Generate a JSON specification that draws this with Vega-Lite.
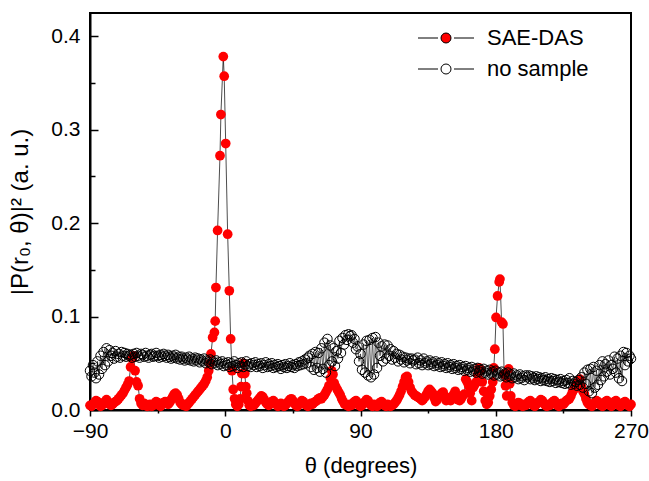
{
"$schema":"https://vega.github.io/schema/vega-lite/v6.json",
"width":541,"height":397,
"autosize":{"type":"none"},
"padding":{"left":90,"top":13,"right":18,"bottom":71},
"background":"white",
"config":{"view":{"stroke":"black","strokeWidth":2},"font":"Liberation Sans",
"axis":{"grid":false,"domainColor":"black","domainWidth":2,"tickColor":"black","tickWidth":1.5,"labelColor":"black","labelFontSize":21,"titleColor":"black","titleFontSize":22,"titleFontWeight":"normal","labelOverlap":false,"labelFlush":false}},
"datasets":{
"sae":[{"t":-90,"v":0.005},{"t":-89,"v":0.004},{"t":-88,"v":0.006},{"t":-87,"v":0.008},{"t":-86,"v":0.010},{"t":-85,"v":0.009},{"t":-84,"v":0.006},{"t":-83,"v":0.004},{"t":-82,"v":0.005},{"t":-81,"v":0.007},{"t":-80,"v":0.009},{"t":-79,"v":0.011},{"t":-78,"v":0.008},{"t":-77,"v":0.006},{"t":-76,"v":0.005},{"t":-75,"v":0.006},{"t":-74,"v":0.008},{"t":-73,"v":0.009},{"t":-72,"v":0.010},{"t":-71,"v":0.012},{"t":-70,"v":0.014},{"t":-69,"v":0.016},{"t":-68,"v":0.018},{"t":-67,"v":0.021},{"t":-66,"v":0.024},{"t":-65,"v":0.027},{"t":-64,"v":0.031},{"t":-63,"v":0.046},{"t":-62,"v":0.055},{"t":-61,"v":0.058},{"t":-60,"v":0.042},{"t":-59,"v":0.030},{"t":-58,"v":0.026},{"t":-57,"v":0.012},{"t":-56,"v":0.007},{"t":-55,"v":0.005},{"t":-54,"v":0.007},{"t":-53,"v":0.006},{"t":-52,"v":0.004},{"t":-51,"v":0.005},{"t":-50,"v":0.006},{"t":-49,"v":0.004},{"t":-48,"v":0.005},{"t":-47,"v":0.007},{"t":-46,"v":0.009},{"t":-45,"v":0.008},{"t":-44,"v":0.005},{"t":-43,"v":0.004},{"t":-42,"v":0.006},{"t":-41,"v":0.008},{"t":-40,"v":0.009},{"t":-39,"v":0.007},{"t":-38,"v":0.006},{"t":-37,"v":0.008},{"t":-36,"v":0.011},{"t":-35,"v":0.014},{"t":-34,"v":0.017},{"t":-33,"v":0.018},{"t":-32,"v":0.016},{"t":-31,"v":0.012},{"t":-30,"v":0.008},{"t":-29,"v":0.006},{"t":-28,"v":0.005},{"t":-27,"v":0.006},{"t":-26,"v":0.004},{"t":-25,"v":0.006},{"t":-24,"v":0.008},{"t":-23,"v":0.010},{"t":-22,"v":0.012},{"t":-21,"v":0.014},{"t":-20,"v":0.016},{"t":-19,"v":0.018},{"t":-18,"v":0.020},{"t":-17,"v":0.022},{"t":-16,"v":0.024},{"t":-15,"v":0.026},{"t":-14,"v":0.028},{"t":-13,"v":0.031},{"t":-12,"v":0.035},{"t":-11,"v":0.042},{"t":-10,"v":0.050},{"t":-9.5,"v":0.060},{"t":-8.4,"v":0.0775},{"t":-7.2,"v":0.083},{"t":-6.7,"v":0.095},{"t":-6.2,"v":0.131},{"t":-5.1,"v":0.192},{"t":-3.5,"v":0.272},{"t":-2.9,"v":0.316},{"t":-1.3,"v":0.378},{"t":-0.7,"v":0.357},{"t":0.3,"v":0.285},{"t":1.6,"v":0.188},{"t":2.7,"v":0.1275},{"t":3.6,"v":0.076},{"t":4.5,"v":0.042},{"t":5.3,"v":0.022},{"t":6.2,"v":0.012},{"t":7,"v":0.006},{"t":8,"v":0.004},{"t":9,"v":0.006},{"t":10,"v":0.012},{"t":10.5,"v":0.025},{"t":11,"v":0.039},{"t":12,"v":0.050},{"t":13,"v":0.039},{"t":13.7,"v":0.025},{"t":14.3,"v":0.018},{"t":15,"v":0.010},{"t":16,"v":0.005},{"t":17,"v":0.004},{"t":18,"v":0.006},{"t":19,"v":0.005},{"t":20,"v":0.007},{"t":21,"v":0.009},{"t":22,"v":0.011},{"t":23,"v":0.013},{"t":24,"v":0.015},{"t":25,"v":0.014},{"t":26,"v":0.011},{"t":27,"v":0.008},{"t":28,"v":0.006},{"t":29,"v":0.005},{"t":30,"v":0.007},{"t":31,"v":0.009},{"t":32,"v":0.010},{"t":33,"v":0.008},{"t":34,"v":0.006},{"t":35,"v":0.004},{"t":36,"v":0.005},{"t":37,"v":0.007},{"t":38,"v":0.006},{"t":39,"v":0.004},{"t":40,"v":0.005},{"t":41,"v":0.007},{"t":42,"v":0.009},{"t":43,"v":0.011},{"t":44,"v":0.012},{"t":45,"v":0.010},{"t":46,"v":0.007},{"t":47,"v":0.005},{"t":48,"v":0.004},{"t":49,"v":0.006},{"t":50,"v":0.008},{"t":51,"v":0.010},{"t":52,"v":0.009},{"t":53,"v":0.006},{"t":54,"v":0.005},{"t":55,"v":0.004},{"t":56,"v":0.006},{"t":57,"v":0.007},{"t":58,"v":0.006},{"t":59,"v":0.008},{"t":60,"v":0.009},{"t":61,"v":0.010},{"t":62,"v":0.012},{"t":63,"v":0.013},{"t":64,"v":0.012},{"t":65,"v":0.014},{"t":66,"v":0.016},{"t":67,"v":0.019},{"t":68,"v":0.022},{"t":69,"v":0.026},{"t":70,"v":0.034},{"t":70.8,"v":0.042},{"t":71.7,"v":0.038},{"t":72.5,"v":0.029},{"t":73.5,"v":0.025},{"t":74.5,"v":0.022},{"t":75.5,"v":0.019},{"t":76.5,"v":0.016},{"t":77.5,"v":0.012},{"t":78.5,"v":0.009},{"t":79.5,"v":0.006},{"t":81,"v":0.005},{"t":82,"v":0.004},{"t":83,"v":0.006},{"t":84,"v":0.005},{"t":85,"v":0.007},{"t":86,"v":0.009},{"t":87,"v":0.010},{"t":88,"v":0.008},{"t":89,"v":0.005},{"t":90,"v":0.004},{"t":91,"v":0.005},{"t":92,"v":0.007},{"t":93,"v":0.009},{"t":94,"v":0.011},{"t":95,"v":0.010},{"t":96,"v":0.007},{"t":97,"v":0.005},{"t":98,"v":0.004},{"t":99,"v":0.006},{"t":100,"v":0.005},{"t":101,"v":0.004},{"t":102,"v":0.006},{"t":103,"v":0.008},{"t":104,"v":0.009},{"t":105,"v":0.007},{"t":106,"v":0.005},{"t":107,"v":0.004},{"t":108,"v":0.006},{"t":109,"v":0.005},{"t":110,"v":0.004},{"t":111,"v":0.005},{"t":112,"v":0.006},{"t":113,"v":0.008},{"t":114,"v":0.010},{"t":115,"v":0.013},{"t":116,"v":0.016},{"t":117,"v":0.020},{"t":118,"v":0.025},{"t":119,"v":0.030},{"t":120,"v":0.035},{"t":121,"v":0.036},{"t":122,"v":0.030},{"t":123,"v":0.024},{"t":124,"v":0.020},{"t":125,"v":0.018},{"t":126,"v":0.016},{"t":127,"v":0.015},{"t":128,"v":0.014},{"t":129,"v":0.013},{"t":130,"v":0.012},{"t":131,"v":0.010},{"t":132,"v":0.012},{"t":133,"v":0.014},{"t":134,"v":0.017},{"t":135,"v":0.020},{"t":136,"v":0.022},{"t":137,"v":0.020},{"t":138,"v":0.018},{"t":139,"v":0.013},{"t":140,"v":0.009},{"t":141,"v":0.011},{"t":142,"v":0.014},{"t":143,"v":0.016},{"t":144,"v":0.018},{"t":145,"v":0.019},{"t":146,"v":0.015},{"t":147,"v":0.010},{"t":148,"v":0.012},{"t":149,"v":0.013},{"t":150,"v":0.010},{"t":151,"v":0.013},{"t":152,"v":0.017},{"t":153,"v":0.020},{"t":154,"v":0.016},{"t":155,"v":0.011},{"t":156,"v":0.010},{"t":157,"v":0.012},{"t":158,"v":0.015},{"t":159,"v":0.017},{"t":160,"v":0.033},{"t":161,"v":0.030},{"t":162,"v":0.026},{"t":163,"v":0.018},{"t":164,"v":0.010},{"t":165,"v":0.024},{"t":166,"v":0.027},{"t":167,"v":0.030},{"t":168,"v":0.038},{"t":169,"v":0.045},{"t":170,"v":0.042},{"t":171,"v":0.030},{"t":172,"v":0.020},{"t":173,"v":0.010},{"t":174,"v":0.006},{"t":175,"v":0.008},{"t":176,"v":0.015},{"t":177,"v":0.022},{"t":178,"v":0.030},{"t":178.7,"v":0.045},{"t":179.4,"v":0.065},{"t":180.2,"v":0.099},{"t":181.2,"v":0.122},{"t":182.3,"v":0.137},{"t":182.8,"v":0.140},{"t":183.9,"v":0.094},{"t":184.8,"v":0.092},{"t":185.6,"v":0.038},{"t":186.5,"v":0.026},{"t":187.3,"v":0.015},{"t":188,"v":0.030},{"t":188.6,"v":0.044},{"t":189.3,"v":0.028},{"t":190,"v":0.015},{"t":191,"v":0.008},{"t":192,"v":0.005},{"t":193,"v":0.004},{"t":194,"v":0.006},{"t":195,"v":0.008},{"t":196,"v":0.007},{"t":197,"v":0.005},{"t":198,"v":0.004},{"t":199,"v":0.006},{"t":200,"v":0.005},{"t":201,"v":0.007},{"t":202,"v":0.009},{"t":203,"v":0.010},{"t":204,"v":0.008},{"t":205,"v":0.005},{"t":206,"v":0.004},{"t":207,"v":0.006},{"t":208,"v":0.008},{"t":209,"v":0.009},{"t":210,"v":0.011},{"t":211,"v":0.010},{"t":212,"v":0.007},{"t":213,"v":0.005},{"t":214,"v":0.004},{"t":215,"v":0.006},{"t":216,"v":0.005},{"t":217,"v":0.007},{"t":218,"v":0.009},{"t":219,"v":0.010},{"t":220,"v":0.008},{"t":221,"v":0.005},{"t":222,"v":0.004},{"t":223,"v":0.006},{"t":224,"v":0.007},{"t":225,"v":0.006},{"t":226,"v":0.008},{"t":227,"v":0.010},{"t":228,"v":0.011},{"t":229,"v":0.012},{"t":230,"v":0.015},{"t":231,"v":0.019},{"t":232,"v":0.022},{"t":233,"v":0.026},{"t":234,"v":0.028},{"t":235,"v":0.030},{"t":236,"v":0.033},{"t":237,"v":0.025},{"t":238,"v":0.020},{"t":239,"v":0.017},{"t":240,"v":0.012},{"t":241,"v":0.008},{"t":242,"v":0.006},{"t":243,"v":0.005},{"t":244,"v":0.004},{"t":245,"v":0.006},{"t":246,"v":0.008},{"t":247,"v":0.010},{"t":248,"v":0.009},{"t":249,"v":0.006},{"t":250,"v":0.005},{"t":251,"v":0.004},{"t":252,"v":0.006},{"t":253,"v":0.009},{"t":254,"v":0.010},{"t":255,"v":0.008},{"t":256,"v":0.005},{"t":257,"v":0.004},{"t":258,"v":0.006},{"t":259,"v":0.009},{"t":260,"v":0.010},{"t":261,"v":0.007},{"t":262,"v":0.005},{"t":263,"v":0.004},{"t":264,"v":0.006},{"t":265,"v":0.008},{"t":266,"v":0.009},{"t":267,"v":0.007},{"t":268,"v":0.005},{"t":269,"v":0.004},{"t":270,"v":0.006}],
"ref":[{"t":-90,"v":0.042},{"t":-89,"v":0.036},{"t":-88,"v":0.048},{"t":-87,"v":0.040},{"t":-86,"v":0.034},{"t":-85,"v":0.052},{"t":-84,"v":0.038},{"t":-83,"v":0.058},{"t":-82,"v":0.044},{"t":-81,"v":0.062},{"t":-80,"v":0.048},{"t":-79,"v":0.066},{"t":-78,"v":0.052},{"t":-77,"v":0.064},{"t":-76,"v":0.058},{"t":-75,"v":0.061},{"t":-74,"v":0.055},{"t":-73,"v":0.063},{"t":-72,"v":0.057},{"t":-71,"v":0.060},{"t":-70,"v":0.056},{"t":-69,"v":0.062},{"t":-68,"v":0.058},{"t":-67,"v":0.061},{"t":-66,"v":0.057},{"t":-65,"v":0.060},{"t":-64,"v":0.058},{"t":-63,"v":0.059},{"t":-62,"v":0.056},{"t":-61,"v":0.060},{"t":-60,"v":0.057},{"t":-59,"v":0.061},{"t":-58,"v":0.058},{"t":-57,"v":0.056},{"t":-56,"v":0.060},{"t":-55,"v":0.059},{"t":-54,"v":0.057},{"t":-53,"v":0.061},{"t":-52,"v":0.058},{"t":-51,"v":0.056},{"t":-50,"v":0.059},{"t":-49,"v":0.060},{"t":-48,"v":0.057},{"t":-47,"v":0.058},{"t":-46,"v":0.061},{"t":-45,"v":0.058},{"t":-44,"v":0.056},{"t":-43,"v":0.059},{"t":-42,"v":0.057},{"t":-41,"v":0.060},{"t":-40,"v":0.058},{"t":-39,"v":0.056},{"t":-38,"v":0.059},{"t":-37,"v":0.057},{"t":-36,"v":0.055},{"t":-35,"v":0.058},{"t":-34,"v":0.056},{"t":-33,"v":0.059},{"t":-32,"v":0.055},{"t":-31,"v":0.057},{"t":-30,"v":0.054},{"t":-29,"v":0.057},{"t":-28,"v":0.055},{"t":-27,"v":0.053},{"t":-26,"v":0.056},{"t":-25,"v":0.054},{"t":-24,"v":0.057},{"t":-23,"v":0.053},{"t":-22,"v":0.055},{"t":-21,"v":0.052},{"t":-20,"v":0.056},{"t":-19,"v":0.053},{"t":-18,"v":0.055},{"t":-17,"v":0.051},{"t":-16,"v":0.054},{"t":-15,"v":0.052},{"t":-14,"v":0.055},{"t":-13,"v":0.050},{"t":-12,"v":0.053},{"t":-11,"v":0.051},{"t":-10,"v":0.054},{"t":-9,"v":0.049},{"t":-8,"v":0.052},{"t":-7,"v":0.050},{"t":-6,"v":0.053},{"t":-5,"v":0.048},{"t":-4,"v":0.051},{"t":-3,"v":0.049},{"t":-2,"v":0.052},{"t":-1,"v":0.047},{"t":0,"v":0.050},{"t":1,"v":0.048},{"t":2,"v":0.051},{"t":3,"v":0.046},{"t":4,"v":0.050},{"t":5,"v":0.047},{"t":6,"v":0.052},{"t":7,"v":0.048},{"t":8,"v":0.045},{"t":9,"v":0.050},{"t":10,"v":0.047},{"t":11,"v":0.051},{"t":12,"v":0.046},{"t":13,"v":0.049},{"t":14,"v":0.052},{"t":15,"v":0.047},{"t":16,"v":0.049},{"t":17,"v":0.046},{"t":18,"v":0.050},{"t":19,"v":0.048},{"t":20,"v":0.051},{"t":21,"v":0.046},{"t":22,"v":0.049},{"t":23,"v":0.047},{"t":24,"v":0.050},{"t":25,"v":0.045},{"t":26,"v":0.048},{"t":27,"v":0.051},{"t":28,"v":0.046},{"t":29,"v":0.049},{"t":30,"v":0.047},{"t":31,"v":0.050},{"t":32,"v":0.045},{"t":33,"v":0.048},{"t":34,"v":0.046},{"t":35,"v":0.049},{"t":36,"v":0.047},{"t":37,"v":0.044},{"t":38,"v":0.048},{"t":39,"v":0.046},{"t":40,"v":0.049},{"t":41,"v":0.045},{"t":42,"v":0.047},{"t":43,"v":0.050},{"t":44,"v":0.046},{"t":45,"v":0.048},{"t":46,"v":0.045},{"t":47,"v":0.049},{"t":48,"v":0.047},{"t":49,"v":0.051},{"t":50,"v":0.048},{"t":51,"v":0.052},{"t":52,"v":0.049},{"t":53,"v":0.054},{"t":54,"v":0.050},{"t":55,"v":0.056},{"t":56,"v":0.058},{"t":57,"v":0.046},{"t":58,"v":0.060},{"t":59,"v":0.043},{"t":60,"v":0.062},{"t":61,"v":0.045},{"t":62,"v":0.061},{"t":63,"v":0.041},{"t":64,"v":0.066},{"t":65,"v":0.044},{"t":66,"v":0.072},{"t":67,"v":0.040},{"t":68,"v":0.076},{"t":69,"v":0.048},{"t":70,"v":0.069},{"t":71,"v":0.052},{"t":72,"v":0.066},{"t":73,"v":0.047},{"t":74,"v":0.063},{"t":75,"v":0.055},{"t":76,"v":0.074},{"t":77,"v":0.061},{"t":78,"v":0.077},{"t":79,"v":0.070},{"t":80,"v":0.080},{"t":81,"v":0.075},{"t":82,"v":0.081},{"t":83,"v":0.079},{"t":84,"v":0.080},{"t":85,"v":0.072},{"t":86,"v":0.076},{"t":87,"v":0.065},{"t":88,"v":0.068},{"t":89,"v":0.052},{"t":90,"v":0.060},{"t":91,"v":0.043},{"t":92,"v":0.070},{"t":93,"v":0.040},{"t":94,"v":0.074},{"t":95,"v":0.037},{"t":96,"v":0.075},{"t":97,"v":0.035},{"t":98,"v":0.077},{"t":99,"v":0.038},{"t":100,"v":0.078},{"t":101,"v":0.045},{"t":102,"v":0.072},{"t":103,"v":0.058},{"t":104,"v":0.068},{"t":105,"v":0.052},{"t":106,"v":0.070},{"t":107,"v":0.055},{"t":108,"v":0.069},{"t":109,"v":0.058},{"t":110,"v":0.065},{"t":111,"v":0.054},{"t":112,"v":0.063},{"t":113,"v":0.056},{"t":114,"v":0.060},{"t":115,"v":0.052},{"t":116,"v":0.059},{"t":117,"v":0.054},{"t":118,"v":0.057},{"t":119,"v":0.051},{"t":120,"v":0.056},{"t":121,"v":0.053},{"t":122,"v":0.055},{"t":123,"v":0.050},{"t":124,"v":0.055},{"t":125,"v":0.053},{"t":126,"v":0.054},{"t":127,"v":0.049},{"t":128,"v":0.056},{"t":129,"v":0.050},{"t":130,"v":0.053},{"t":131,"v":0.048},{"t":132,"v":0.055},{"t":133,"v":0.050},{"t":134,"v":0.052},{"t":135,"v":0.048},{"t":136,"v":0.053},{"t":137,"v":0.049},{"t":138,"v":0.051},{"t":139,"v":0.047},{"t":140,"v":0.052},{"t":141,"v":0.048},{"t":142,"v":0.050},{"t":143,"v":0.046},{"t":144,"v":0.051},{"t":145,"v":0.047},{"t":146,"v":0.049},{"t":147,"v":0.045},{"t":148,"v":0.050},{"t":149,"v":0.046},{"t":150,"v":0.048},{"t":151,"v":0.044},{"t":152,"v":0.049},{"t":153,"v":0.045},{"t":154,"v":0.047},{"t":155,"v":0.043},{"t":156,"v":0.048},{"t":157,"v":0.044},{"t":158,"v":0.046},{"t":159,"v":0.042},{"t":160,"v":0.047},{"t":161,"v":0.043},{"t":162,"v":0.045},{"t":163,"v":0.041},{"t":164,"v":0.046},{"t":165,"v":0.042},{"t":166,"v":0.044},{"t":167,"v":0.040},{"t":168,"v":0.045},{"t":169,"v":0.041},{"t":170,"v":0.043},{"t":171,"v":0.039},{"t":172,"v":0.044},{"t":173,"v":0.040},{"t":174,"v":0.042},{"t":175,"v":0.038},{"t":176,"v":0.043},{"t":177,"v":0.039},{"t":178,"v":0.041},{"t":179,"v":0.037},{"t":180,"v":0.042},{"t":181,"v":0.038},{"t":182,"v":0.040},{"t":183,"v":0.036},{"t":184,"v":0.041},{"t":185,"v":0.037},{"t":186,"v":0.039},{"t":187,"v":0.035},{"t":188,"v":0.040},{"t":189,"v":0.036},{"t":190,"v":0.038},{"t":191,"v":0.034},{"t":192,"v":0.039},{"t":193,"v":0.035},{"t":194,"v":0.037},{"t":195,"v":0.033},{"t":196,"v":0.038},{"t":197,"v":0.034},{"t":198,"v":0.036},{"t":199,"v":0.032},{"t":200,"v":0.037},{"t":201,"v":0.035},{"t":202,"v":0.037},{"t":203,"v":0.033},{"t":204,"v":0.036},{"t":205,"v":0.034},{"t":206,"v":0.032},{"t":207,"v":0.036},{"t":208,"v":0.033},{"t":209,"v":0.035},{"t":210,"v":0.031},{"t":211,"v":0.034},{"t":212,"v":0.032},{"t":213,"v":0.035},{"t":214,"v":0.031},{"t":215,"v":0.033},{"t":216,"v":0.030},{"t":217,"v":0.034},{"t":218,"v":0.031},{"t":219,"v":0.033},{"t":220,"v":0.029},{"t":221,"v":0.032},{"t":222,"v":0.030},{"t":223,"v":0.033},{"t":224,"v":0.029},{"t":225,"v":0.031},{"t":226,"v":0.028},{"t":227,"v":0.032},{"t":228,"v":0.029},{"t":229,"v":0.034},{"t":230,"v":0.027},{"t":231,"v":0.031},{"t":232,"v":0.028},{"t":233,"v":0.030},{"t":234,"v":0.026},{"t":235,"v":0.032},{"t":236,"v":0.027},{"t":237,"v":0.035},{"t":238,"v":0.024},{"t":239,"v":0.040},{"t":240,"v":0.028},{"t":241,"v":0.043},{"t":242,"v":0.020},{"t":243,"v":0.044},{"t":244,"v":0.018},{"t":245,"v":0.046},{"t":246,"v":0.024},{"t":247,"v":0.042},{"t":248,"v":0.027},{"t":249,"v":0.048},{"t":250,"v":0.032},{"t":251,"v":0.052},{"t":252,"v":0.036},{"t":253,"v":0.049},{"t":254,"v":0.041},{"t":255,"v":0.053},{"t":256,"v":0.038},{"t":257,"v":0.048},{"t":258,"v":0.044},{"t":259,"v":0.057},{"t":260,"v":0.040},{"t":261,"v":0.055},{"t":262,"v":0.034},{"t":263,"v":0.058},{"t":264,"v":0.031},{"t":265,"v":0.062},{"t":266,"v":0.048},{"t":267,"v":0.061},{"t":268,"v":0.052},{"t":269,"v":0.058},{"t":270,"v":0.055}]
},
"encoding":{
"x":{"field":"t","type":"quantitative","scale":{"domain":[-90,270],"nice":false,"zero":false},
"axis":{"values":[-90,-45,0,45,90,135,180,225,270],"labelExpr":"datum.value % 90 === 0 ? datum.label : ''","format":"d","tickSize":{"condition":{"test":"datum.value % 90 === 0","value":6},"value":3},"labelPadding":4,"title":"θ (degrees)","titlePadding":14}},
"y":{"field":"v","type":"quantitative","scale":{"domain":[0,0.4246],"nice":false},
"axis":{"values":[0,0.05,0.1,0.15,0.2,0.25,0.3,0.35,0.4],"format":".1f","labelExpr":"abs(datum.value*10-round(datum.value*10)) < 0.001 ? datum.label : ''","tickSize":{"condition":{"test":"abs(datum.value*10-round(datum.value*10)) < 0.001","value":-8},"value":-5},"labelPadding":18,"title":"|P(r₀, θ)|² (a. u.)","titleFontSize":24,"titlePadding":18}}
},
"layer":[
{"data":{"name":"sae"},"mark":{"type":"line","color":"black","strokeWidth":0.7},"encoding":{}},
{"data":{"name":"sae"},"mark":{"type":"point","filled":true,"size":95,"opacity":1},
"encoding":{"fill":{"datum":"SAE-DAS","type":"nominal","scale":{"domain":["SAE-DAS","no sample"],"range":["#ff0000","transparent"]},
"legend":{"title":null,"orient":"none","legendX":345,"legendY":14,"symbolType":"M-5.6,0L-1.6,0M1.6,0L5.6,0M1,0C1,0.552,0.552,1,0,1C-0.552,1,-1,0.552,-1,0C-1,-0.552,-0.552,-1,0,-1C0.552,-1,1,-0.552,1,0Z","symbolSize":100,"symbolStrokeColor":"black","symbolStrokeWidth":1,"symbolOpacity":1,"labelFontSize":22,"labelColor":"black","labelOffset":30,"rowPadding":9,"padding":0}}}},
{"data":{"name":"ref"},"mark":{"type":"line","color":"black","strokeWidth":0.6},"encoding":{}},
{"data":{"name":"ref"},"mark":{"type":"point","filled":true,"size":90,"opacity":1,"stroke":"black","strokeWidth":1},
"encoding":{"fill":{"datum":"no sample","type":"nominal"}}}
]
}
